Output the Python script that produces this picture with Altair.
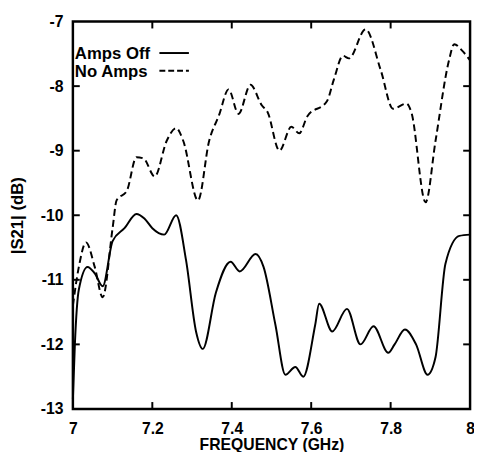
import altair as alt
import pandas as pd

# Amps Off (solid)
off_freq = [7.0, 7.005, 7.015, 7.037, 7.055, 7.075, 7.10, 7.13, 7.16, 7.18, 7.20, 7.23, 7.26, 7.285,
            7.31, 7.327, 7.36, 7.397, 7.42, 7.46, 7.48, 7.51, 7.535, 7.56, 7.58, 7.61, 7.62, 7.653,
            7.69, 7.724, 7.757, 7.794, 7.81, 7.836, 7.864, 7.893, 7.913, 7.938, 7.973, 8.0]
off_db = [-12.85, -12.0, -11.15, -10.8, -10.9, -11.1, -10.4, -10.2, -9.98, -10.05, -10.2, -10.3, -10.0, -10.7,
          -11.8, -12.07, -11.2, -10.72, -10.87, -10.6, -10.8, -11.7, -12.47, -12.35, -12.5, -11.7, -11.37, -11.8,
          -11.45, -12.0, -11.72, -12.13, -12.0, -11.77, -12.0, -12.47, -12.2, -10.75, -10.32, -10.3]

# No Amps (dashed)
no_freq = [7.0, 7.015, 7.033, 7.055, 7.075, 7.10, 7.11, 7.136, 7.16, 7.178, 7.206, 7.236, 7.26, 7.278,
           7.315, 7.343, 7.368, 7.392, 7.417, 7.447, 7.476, 7.49, 7.52, 7.55, 7.57, 7.59, 7.64, 7.657,
           7.68, 7.695, 7.737, 7.775, 7.806, 7.84, 7.852, 7.888, 7.913, 7.947, 7.96, 7.98, 8.0]
no_db = [-11.4, -10.8, -10.42, -10.8, -11.27, -10.2, -9.77, -9.62, -9.1, -9.12, -9.4, -8.85, -8.65, -8.85,
         -9.77, -8.85, -8.45, -8.05, -8.43, -7.98, -8.3, -8.4, -9.0, -8.63, -8.73, -8.47, -8.23, -7.9,
         -7.53, -7.57, -7.12, -7.75, -8.35, -8.27, -8.4, -9.8, -8.85, -7.6, -7.35, -7.45, -7.6]

x_ticks = [7, 7.2, 7.4, 7.6, 7.8, 8]
y_ticks = [-13, -12, -11, -10, -9, -8, -7]
x_inner = [7.2, 7.4, 7.6, 7.8]
y_inner = [-12, -11, -10, -9, -8]
legend_labels = ["Amps Off", "No Amps"]

W, H = 404, 394
FONT = "Liberation Sans"

df = pd.concat([
    pd.DataFrame({"f": off_freq, "db": off_db, "s": "Amps Off"}),
    pd.DataFrame({"f": no_freq, "db": no_db, "s": "No Amps"}),
])

xs = alt.Scale(domain=[7, 8], nice=False, zero=False)
ys = alt.Scale(domain=[-13, -7], nice=False, zero=False)

xax = alt.Axis(values=x_ticks, labelExpr="datum.value + ''", ticks=False, domain=False, grid=False,
               labelFont=FONT, labelFontSize=16, labelFontWeight="bold", labelColor="black",
               labelPadding=12, title="FREQUENCY (GHz)", titleFont=FONT, titleFontSize=16,
               titleFontWeight="bold", titleColor="black", titlePadding=0, labelFlush=False)
yax = alt.Axis(values=y_ticks, labelExpr="datum.value + ''", ticks=False, domain=False, grid=False,
               labelFont=FONT, labelFontSize=16, labelFontWeight="bold", labelColor="black",
               labelPadding=10, title="|S21| (dB)", titleFont=FONT, titleFontSize=17,
               titleFontWeight="bold", titleColor="black", titlePadding=14, labelFlush=False)

base = alt.Chart(df).encode(
    x=alt.X("f:Q", scale=xs, axis=xax),
    y=alt.Y("db:Q", scale=ys, axis=yax),
)

solid = base.transform_filter(alt.datum.s == "Amps Off").mark_line(
    color="black", strokeWidth=2, interpolate="monotone")
dashed = base.transform_filter(alt.datum.s == "No Amps").mark_line(
    color="black", strokeWidth=2, strokeDash=[7, 4], interpolate="monotone")

xt = pd.DataFrame({"t": x_inner})
yt = pd.DataFrame({"t": y_inner})
tick_bottom = alt.Chart(xt).mark_rule(color="black", strokeWidth=2).encode(
    x=alt.X("t:Q", scale=xs, axis=xax), y=alt.value(H), y2=alt.value(H - 7))
tick_top = alt.Chart(xt).mark_rule(color="black", strokeWidth=2).encode(
    x=alt.X("t:Q", scale=xs, axis=xax), y=alt.value(0), y2=alt.value(7))
tick_left = alt.Chart(yt).mark_rule(color="black", strokeWidth=2).encode(
    y=alt.Y("t:Q", scale=ys, axis=yax), x=alt.value(0), x2=alt.value(7))
tick_right = alt.Chart(yt).mark_rule(color="black", strokeWidth=2).encode(
    y=alt.Y("t:Q", scale=ys, axis=yax), x=alt.value(W), x2=alt.value(W - 7))

leg0 = pd.DataFrame({"label": [legend_labels[0]]})
leg1 = pd.DataFrame({"label": [legend_labels[1]]})
txt = dict(align="left", baseline="alphabetic", font=FONT, fontSize=17, fontWeight="bold", color="black")
leg_text0 = alt.Chart(leg0).mark_text(**txt).encode(text="label:N", x=alt.value(2), y=alt.value(38))
leg_text1 = alt.Chart(leg1).mark_text(**txt).encode(text="label:N", x=alt.value(2), y=alt.value(56))
leg_solid = alt.Chart(leg0).mark_rule(color="black", strokeWidth=2).encode(
    x=alt.value(88), x2=alt.value(118), y=alt.value(32))
leg_dash = alt.Chart(leg1).mark_rule(color="black", strokeWidth=2, strokeDash=[6, 3]).encode(
    x=alt.value(88), x2=alt.value(118), y=alt.value(50))

chart = alt.layer(solid, dashed, tick_bottom, tick_top, tick_left, tick_right,
                  leg_text0, leg_text1, leg_solid, leg_dash).properties(
    width=W, height=H,
    background="white",
    autosize=alt.AutoSizeParams(type="none"),
    padding={"left": 66, "top": 10, "right": 4, "bottom": 40},
).configure_view(stroke="black", strokeWidth=2.5)

chart.save("out.html", embed_options={"renderer": "svg", "actions": False})
